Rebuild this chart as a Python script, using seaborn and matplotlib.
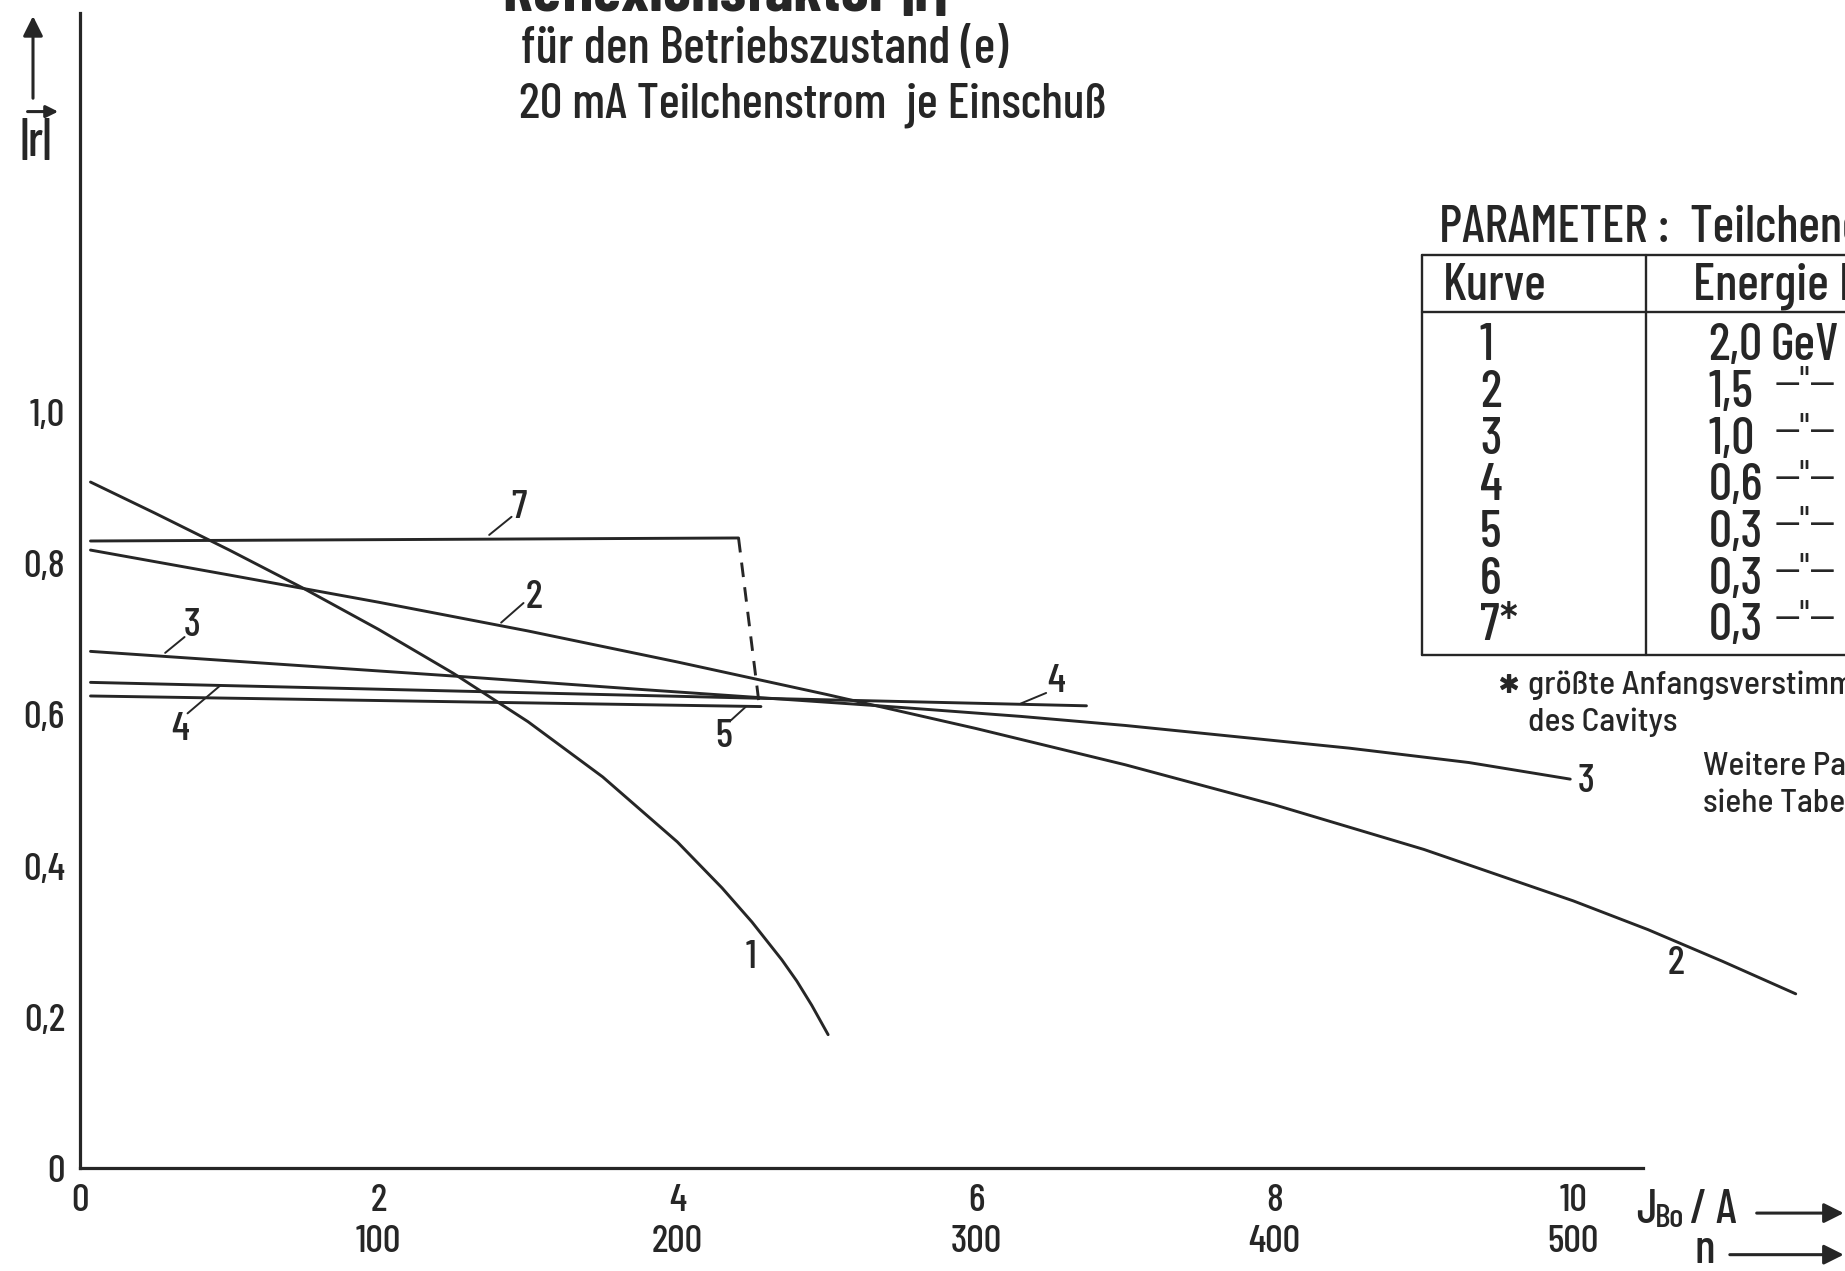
import matplotlib
matplotlib.use("Agg")
import matplotlib.pyplot as plt
import numpy as np
import pandas as pd
import seaborn as sns

# ---- data: reflection factor |r| versus beam current J_Bo (A) -------------
k1_J = [0.07, 0.5, 1.0, 1.5, 2.0, 2.5, 3.0, 3.5, 4.0, 4.3, 4.5, 4.7, 4.8, 4.9, 5.01]
k1_r = [0.908, 0.867, 0.818, 0.767, 0.713, 0.655, 0.591, 0.518, 0.432, 0.371,
        0.326, 0.276, 0.248, 0.216, 0.177]

k2_J = [0.07, 1.0, 2.0, 3.0, 4.0, 5.0, 6.0, 7.0, 8.0, 9.0, 10.0, 10.5, 11.0, 11.49]
k2_r = [0.818, 0.785, 0.749, 0.711, 0.670, 0.627, 0.582, 0.534, 0.481, 0.422,
        0.354, 0.316, 0.274, 0.231]

k3_J = [0.07, 2.53, 3.73, 5.35, 6.3, 7.0, 7.6, 8.5, 9.3, 9.98]
k3_r = [0.684, 0.651, 0.634, 0.612, 0.598, 0.586, 0.574, 0.556, 0.537, 0.515]

k4_J = [0.07, 4.55, 6.74]
k4_r = [0.643, 0.622, 0.612]

k5_J = [0.07, 4.56]
k5_r = [0.625, 0.611]

k7_J = [0.07, 4.41]
k7_r = [0.830, 0.834]
k7_drop_J = [4.41, 4.55]
k7_drop_r = [0.834, 0.611]

# axis ticks
J_major = [0, 2, 4, 6, 8, 10]
n_major = [None, 100, 200, 300, 400, 500]
J_minor = [1, 3, 5, 7, 9]
r_major = [0.0, 0.2, 0.4, 0.6, 0.8, 1.0, 1.4]
r_labels = ["0", "0,2", "0,4", "0,6", "0,8", "1,0", ""]
r_minor = [0.1, 0.3, 0.5, 0.7, 0.9]

# parameter table
table_kurve = ["1", "2", "3", "4", "5", "6", "7*"]
table_energie = ["2,0", "1,5", "1,0", "0,6", "0,3", "0,3", "0,3"]

# ---- style -----------------------------------------------------------------
sns.set_style("white")
FONT = ["Barlow Condensed", "Roboto Condensed", "PT Sans Narrow",
        "Liberation Sans Narrow", "DejaVu Sans"]
NOTE_FONT = ["Barlow Semi Condensed", "Barlow Condensed", "DejaVu Sans"]
plt.rcParams["font.family"] = FONT
plt.rcParams["font.weight"] = "medium"
INK = "#262626"

fig = plt.figure(figsize=(18.45, 12.71), dpi=100)
ax = fig.add_axes([0, 0, 1, 1])
ax.set_xlim(-0.536, 11.82)
ax.set_ylim(-0.1356, 1.5456)

# ---- curves ----------------------------------------------------------------
frames = []
for name, xs, ys in [("1", k1_J, k1_r), ("2", k2_J, k2_r), ("3", k3_J, k3_r),
                     ("4", k4_J, k4_r), ("5", k5_J, k5_r), ("7", k7_J, k7_r)]:
    frames.append(pd.DataFrame({"J": xs, "r": ys, "Kurve": name}))
curves = pd.concat(frames, ignore_index=True)
sns.lineplot(data=curves, x="J", y="r", units="Kurve", estimator=None,
             sort=False, color=INK, lw=2.1, ax=ax, legend=False)
sns.lineplot(x=k7_drop_J, y=k7_drop_r, estimator=None, sort=False,
             color=INK, lw=2.1, linestyle=(0, (5, 3.5)), ax=ax)

# ---- axes ------------------------------------------------------------------
for s in ["top", "right"]:
    ax.spines[s].set_visible(False)
ax.spines["left"].set_position(("data", 0))
ax.spines["left"].set_bounds(0, 1.528)
ax.spines["bottom"].set_position(("data", 0))
ax.spines["bottom"].set_bounds(0, 10.47)
for s in ["left", "bottom"]:
    ax.spines[s].set_linewidth(2.3)
    ax.spines[s].set_color(INK)

x_labels = [f"{j}" if n is None else f"{j}\n{n}" for j, n in zip(J_major, n_major)]
ax.set_xticks(J_major, labels=x_labels)
ax.set_xticks(J_minor, minor=True)
ax.set_yticks(r_major, labels=r_labels)
ax.set_yticks(r_minor, minor=True)
ax.tick_params(axis="x", which="major", direction="in", length=14, width=1.4,
               pad=11, labelsize=28, colors=INK)
ax.tick_params(axis="x", which="minor", direction="in", length=8, width=1.4,
               colors=INK)
ax.tick_params(axis="y", which="major", direction="inout", length=12, width=1.4,
               pad=5, labelsize=28, colors=INK)
ax.tick_params(axis="y", which="minor", direction="out", length=7, width=1.4,
               colors=INK)
for lab in ax.get_xticklabels():
    lab.set_linespacing(1.25)
ax.set_xlabel("")
ax.set_ylabel("")

# y-axis quantity with arrow
ax.text(-0.295, 1.356, "|r|", fontsize=36, color=INK, ha="center", va="center")
ax.annotate("", xy=(-0.128, 1.398), xytext=(-0.37, 1.398),
            arrowprops=dict(arrowstyle="-|>", color=INK, lw=2.2,
                            mutation_scale=18))
ax.annotate("", xy=(-0.315, 1.528), xytext=(-0.315, 1.412),
            arrowprops=dict(arrowstyle="-|>", color=INK, lw=2.2,
                            mutation_scale=30))

# x-axis quantities with arrows
ax.text(10.42, -0.072, "J", fontsize=34, color=INK, ha="left", va="baseline")
ax.text(10.55, -0.078, "Bo", fontsize=24, color=INK, ha="left", va="baseline")
ax.text(10.78, -0.072, "/", fontsize=34, color=INK, ha="left", va="baseline")
ax.text(10.95, -0.072, "A", fontsize=34, color=INK, ha="left", va="baseline")
ax.annotate("", xy=(11.83, -0.059), xytext=(11.21, -0.059),
            arrowprops=dict(arrowstyle="-|>", color=INK, lw=2.2,
                            mutation_scale=30), annotation_clip=False)
ax.text(10.81, -0.125, "n", fontsize=34, color=INK, ha="left", va="baseline")
ax.annotate("", xy=(11.83, -0.114), xytext=(11.03, -0.114),
            arrowprops=dict(arrowstyle="-|>", color=INK, lw=2.2,
                            mutation_scale=30), annotation_clip=False)

# ---- title -----------------------------------------------------------------
ax.text(2.83, 1.531, "Reflexionsfaktor |r|", fontsize=46, fontweight="bold",
        color=INK, ha="left", va="baseline")
ax.text(2.95, 1.462, "für den Betriebszustand (e)", fontsize=37, color=INK,
        ha="left", va="baseline")
ax.text(2.94, 1.390, "20 mA Teilchenstrom  je Einschuß", fontsize=36,
        color=INK, ha="left", va="baseline")

# ---- curve labels with leader lines ------------------------------------------
lead = dict(arrowstyle="-", color=INK, lw=1.4, shrinkA=0, shrinkB=0)
LBL = 29
def curve_label(text, xy, xy_end, xy_text):
    ax.annotate("", xy=xy_end, xytext=xy, arrowprops=lead)
    ax.text(*xy_text, text, fontsize=LBL, color=INK, ha="center", va="center")

curve_label("7", (2.74, 0.838), (2.89, 0.862), (2.94, 0.874))
curve_label("2", (2.82, 0.722), (2.97, 0.748), (3.04, 0.755))
curve_label("3", (0.57, 0.682), (0.70, 0.703), (0.75, 0.717))
curve_label("4", (0.94, 0.639), (0.72, 0.602), (0.67, 0.580))
curve_label("5", (4.46, 0.611), (4.36, 0.593), (4.31, 0.571))
curve_label("4", (6.30, 0.615), (6.47, 0.629), (6.54, 0.643))
ax.text(10.03, 0.511, "3", fontsize=LBL, color=INK, ha="left", va="center")
ax.text(10.69, 0.271, "2", fontsize=LBL, color=INK, ha="center", va="center")
ax.text(4.49, 0.278, "1", fontsize=LBL, color=INK, ha="center", va="center")

# ---- parameter table ---------------------------------------------------------
T_LEFT, T_MID, T_RIGHT = 8.99, 10.49, 12.5
T_TOP, T_HEAD, T_BOT = 1.208, 1.133, 0.679
tl = dict(color=INK, lw=1.7)
ax.plot([T_LEFT, T_RIGHT], [T_TOP, T_TOP], **tl)
ax.plot([T_LEFT, T_RIGHT], [T_HEAD, T_HEAD], **tl)
ax.plot([T_LEFT, T_RIGHT], [T_BOT, T_BOT], **tl)
ax.plot([T_LEFT, T_LEFT], [T_BOT, T_TOP], **tl)
ax.plot([T_MID, T_MID], [T_BOT, T_TOP], **tl)

TBL = 37
ax.text(9.10, 1.226, "PARAMETER :  Teilchenenergie", fontsize=TBL, color=INK,
        ha="left", va="baseline")
ax.text(9.13, 1.149, "Kurve", fontsize=TBL, color=INK, ha="left", va="baseline")
ax.text(10.80, 1.149, "Energie E", fontsize=TBL, color=INK, ha="left",
        va="baseline")
for i, (k, e) in enumerate(zip(table_kurve, table_energie)):
    yb = 1.069 - i * 0.0617
    ax.text(9.375, yb, k, fontsize=TBL, color=INK, ha="left", va="baseline")
    ax.text(10.905, yb, e, fontsize=TBL, color=INK, ha="left", va="baseline")
    if i == 0:
        ax.text(11.32, yb, "GeV", fontsize=TBL, color=INK, ha="left",
                va="baseline")
    else:
        ax.text(11.35, yb + 0.014, '—"—', fontsize=31, fontweight="normal",
                color=INK, ha="left", va="baseline")

ax.text(9.50, 0.600, "*", fontsize=40, fontweight="bold", color=INK,
        ha="left", va="baseline")
note = dict(fontsize=24, color=INK, ha="left", va="baseline", family=NOTE_FONT)
ax.text(9.70, 0.627, "größte Anfangsverstimmung", **note)
ax.text(9.70, 0.579, "des Cavitys", **note)
ax.text(10.87, 0.520, "Weitere Parameter", **note)
ax.text(10.87, 0.472, "siehe Tabelle", **note)

fig.savefig("out.png", dpi=100, facecolor="white")
